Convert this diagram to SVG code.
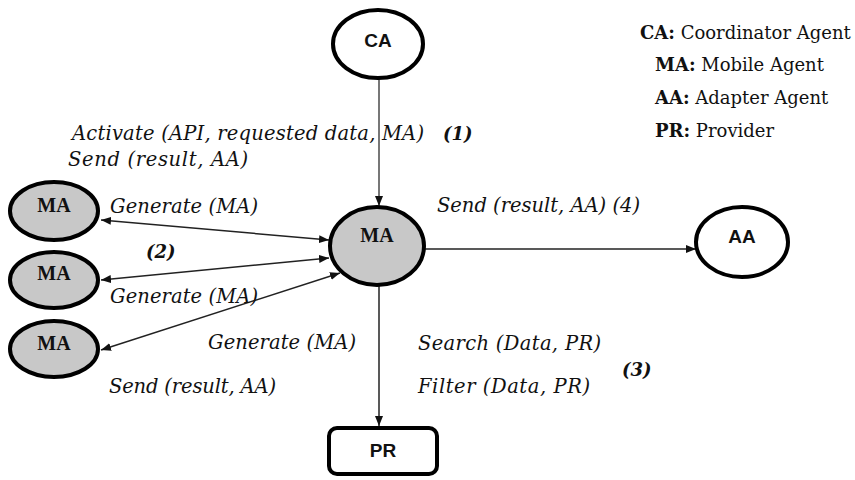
<svg xmlns="http://www.w3.org/2000/svg" width="855" height="480" viewBox="0 0 855 480">
  <style>
    .node { stroke: #000; stroke-width: 4; }
    .white { fill: #fff; }
    .grey { fill: #c8c8c8; }
    .sans { font-family: "Liberation Sans", Arial, sans-serif; font-weight: bold; font-size: 19px; fill: #111; text-anchor: middle; }
    .serifb { font-family: "Liberation Serif", "Times New Roman", serif; font-weight: bold; font-size: 20px; fill: #111; text-anchor: middle; }
    .lbl { font-family: "DejaVu Serif", serif; font-style: italic; font-size: 19.5px; fill: #111; }
    .num { font-family: "DejaVu Serif", serif; font-style: italic; font-weight: bold; font-size: 18px; fill: #111; }
    .leg { font-family: "DejaVu Serif", serif; font-size: 18px; fill: #111; }
    .leg tspan.k { font-weight: bold; }
    .conn { stroke: #222; stroke-width: 1.5; fill: none; }
    .feed { stroke: #777; stroke-width: 2; fill: none; }
  </style>
  <defs>
    <marker id="arrow" viewBox="0 0 10 8" refX="10" refY="4" markerWidth="10" markerHeight="8" markerUnits="userSpaceOnUse" orient="auto-start-reverse">
      <path d="M0,0 L10,4 L0,8 z" fill="#111"/>
    </marker>
  </defs>

  <!-- connectors -->
  <g id="connectors">
    <line class="feed" x1="379" y1="79" x2="379" y2="206" marker-end="url(#arrow)"/>
    <line class="conn" x1="101" y1="220" x2="329" y2="240" marker-start="url(#arrow)" marker-end="url(#arrow)"/>
    <line class="conn" x1="101" y1="280" x2="329" y2="258" marker-start="url(#arrow)" marker-end="url(#arrow)"/>
    <line class="conn" x1="101" y1="350" x2="340" y2="273" marker-start="url(#arrow)" marker-end="url(#arrow)"/>
    <line class="conn" x1="425" y1="249" x2="696" y2="249" marker-end="url(#arrow)"/>
    <line class="conn" x1="379" y1="286" x2="379" y2="426" marker-end="url(#arrow)"/>
  </g>

  <!-- nodes -->
  <g id="ca">
    <ellipse class="node white" cx="378" cy="44" rx="45" ry="34"/>
    <text class="sans" x="378" y="47">CA</text>
  </g>
  <g id="ma-center">
    <ellipse class="node grey" cx="377" cy="246" rx="47" ry="39"/>
    <text class="serifb" x="377" y="242">MA</text>
  </g>
  <g id="ma-1">
    <ellipse class="node grey" cx="54" cy="211" rx="44" ry="29"/>
    <text class="serifb" x="54" y="212">MA</text>
  </g>
  <g id="ma-2">
    <ellipse class="node grey" cx="54" cy="280" rx="44" ry="28"/>
    <text class="serifb" x="54" y="280">MA</text>
  </g>
  <g id="ma-3">
    <ellipse class="node grey" cx="54" cy="349" rx="44" ry="28"/>
    <text class="serifb" x="54" y="350">MA</text>
  </g>
  <g id="aa">
    <ellipse class="node white" cx="742" cy="242" rx="46" ry="35"/>
    <text class="sans" x="742" y="243">AA</text>
  </g>
  <g id="pr">
    <rect class="node white" x="329" y="428" width="108" height="46" rx="8"/>
    <text class="sans" x="383" y="457">PR</text>
  </g>

  <!-- connector labels -->
  <g id="labels">
    <text class="lbl" x="72" y="140" textLength="352">Activate (API, requested data, MA)</text>
    <text class="num" x="443" y="140">(1)</text>
    <text class="lbl" x="68" y="166" textLength="180">Send (result, AA)</text>
    <text class="lbl" x="110" y="213" textLength="148">Generate (MA)</text>
    <text class="num" x="146" y="258">(2)</text>
    <text class="lbl" x="110" y="303" textLength="148">Generate (MA)</text>
    <text class="lbl" x="208" y="349" textLength="148">Generate (MA)</text>
    <text class="lbl" x="109" y="393" textLength="167">Send (result, AA)</text>
    <text class="lbl" x="437" y="212" textLength="203">Send (result, AA) (4)</text>
    <text class="lbl" x="418" y="350" textLength="183">Search (Data, PR)</text>
    <text class="lbl" x="418" y="393" textLength="172">Filter (Data, PR)</text>
    <text class="num" x="622" y="376">(3)</text>
  </g>

  <!-- legend -->
  <g id="legend">
    <text class="leg" x="640" y="39"><tspan class="k">CA:</tspan> Coordinator Agent</text>
    <text class="leg" x="655" y="71"><tspan class="k">MA:</tspan> Mobile Agent</text>
    <text class="leg" x="655" y="104"><tspan class="k">AA:</tspan> Adapter Agent</text>
    <text class="leg" x="655" y="137"><tspan class="k">PR:</tspan> Provider</text>
  </g>
</svg>
